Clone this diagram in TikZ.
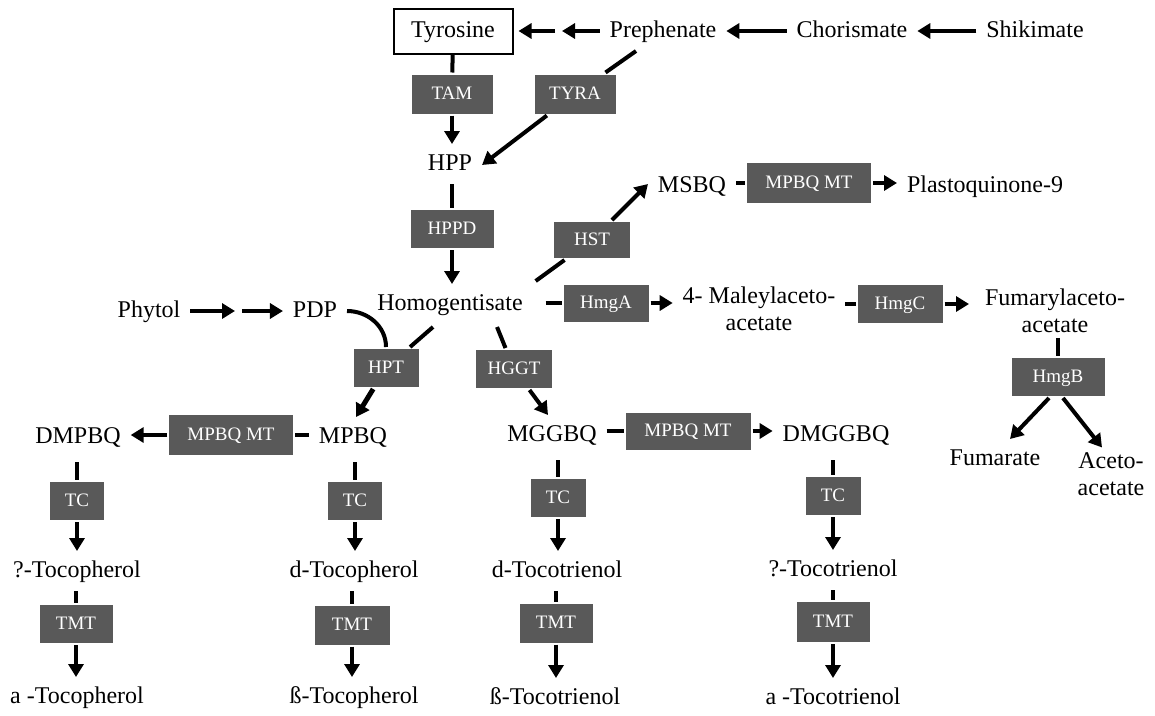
\documentclass[tikz,border=0pt]{standalone}
\usepackage{fontspec}
\setmainfont{Liberation Serif}
\usepackage{tikz}
\usetikzlibrary{arrows.meta, positioning, calc}
\definecolor{enzgray}{RGB}{89,89,89}

\begin{document}
\begin{tikzpicture}[x=1pt, y=-1pt, line width=4pt,
    met/.style={inner xsep=8pt, inner ysep=8pt, text height=16pt, text depth=4pt, font=\fontsize{24}{27}\selectfont},
    mettwo/.style={inner xsep=8pt, inner ysep=3pt, align=center, font=\fontsize{24}{27}\selectfont},
    enz/.style={fill=enzgray, text=white, inner sep=0pt, minimum height=38pt, text height=12.5pt, text depth=1pt, font=\fontsize{19}{21}\selectfont},
    arr/.style={-{Triangle[length=13pt, width=15pt]}}]
    \useasboundingbox (0,0) rectangle (1155,715);

    \node[met, draw, line width=2pt, minimum width=119pt, minimum height=45pt] (tyr) at (453,31) {Tyrosine};
    \node[met] (preph) at (663,31) {Prephenate};
    \node[met] (chor) at (852,31) {Chorismate};
    \node[met] (shik) at (1035,31) {Shikimate};
    \node[met] (hpp) at (450,164) {HPP};
    \node[met] (homog) at (450,304) {Homogentisate};
    \node[met] (phytol) at (149,311) {Phytol};
    \node[met] (pdp) at (315,311) {PDP};
    \node[met] (msbq) at (692,186) {MSBQ};
    \node[met] (pq) at (985,186) {Plastoquinone-9};
    \node[mettwo] (mal) at (759,309) {4- Maleylaceto-\\acetate};
    \node[mettwo] (fum) at (1055,311) {Fumarylaceto-\\acetate};
    \node[met] (fumarate) at (995,459) {Fumarate};
    \node[mettwo] (aceto) at (1111,474) {Aceto-\\acetate};
    \node[met] (dmpbq) at (78,437) {DMPBQ};
    \node[met] (mpbq) at (353,437) {MPBQ};
    \node[met] (mggbq) at (552,435) {MGGBQ};
    \node[met] (dmggbq) at (836,435) {DMGGBQ};
    \node[met] (gtoc) at (77,571) {?-Tocopherol};
    \node[met] (dtoc) at (354,571) {d-Tocopherol};
    \node[met] (dtri) at (557,571) {d-Tocotrienol};
    \node[met] (gtri) at (833,570) {?-Tocotrienol};
    \node[met] (atoc) at (77,697) {a -Tocopherol};
    \node[met] (btoc) at (354,697) {ß-Tocopherol};
    \node[met] (btri) at (555,698) {ß-Tocotrienol};
    \node[met] (atri) at (833,698) {a -Tocotrienol};

    \node[enz, minimum width=81pt, minimum height=39pt] (tam) at (452,94) {TAM};
    \node[enz, minimum width=81pt, minimum height=39pt] (tyra) at (575,94) {TYRA};
    \node[enz, minimum width=83pt] (hppd) at (452,229) {HPPD};
    \node[enz, minimum width=76pt, minimum height=36pt] (hst) at (592,240) {HST};
    \node[enz, minimum width=124pt, minimum height=40pt] (mtt) at (809,183) {MPBQ MT};
    \node[enz, minimum width=85pt, minimum height=37pt] (hmga) at (606,303) {HmgA};
    \node[enz, minimum width=85pt, minimum height=38pt] (hmgc) at (900,304) {HmgC};
    \node[enz, minimum width=93pt] (hmgb) at (1058,377) {HmgB};
    \node[enz, minimum width=65pt] (hpt) at (386,368) {HPT};
    \node[enz, minimum width=76pt] (hggt) at (514,369) {HGGT};
    \node[enz, minimum width=124pt, minimum height=40pt] (mtl) at (231,435) {MPBQ MT};
    \node[enz, minimum width=125pt, minimum height=37pt] (mtr) at (688,431) {MPBQ MT};
    \node[enz, minimum width=54pt] (tc1) at (77,501) {TC};
    \node[enz, minimum width=54pt] (tc2) at (355,501) {TC};
    \node[enz, minimum width=55pt] (tc3) at (558,498) {TC};
    \node[enz, minimum width=55pt] (tc4) at (833,496) {TC};
    \node[enz, minimum width=73pt] (tmt1) at (76,624) {TMT};
    \node[enz, minimum width=75pt, minimum height=39pt] (tmt2) at (352,625) {TMT};
    \node[enz, minimum width=73pt, minimum height=39pt] (tmt3) at (556,623) {TMT};
    \node[enz, minimum width=73pt, minimum height=40pt] (tmt4) at (833,622) {TMT};

    \coordinate (brkr) at (562,31);
    \coordinate (brkl) at (555,31);
    \coordinate (ppr) at (235,311);
    \coordinate (ppl) at (242,311);

    \draw[arr] (shik) -- (chor);
    \draw[arr] (chor) -- (preph);
    \draw[arr] (preph) -- (brkr);
    \draw[arr, shorten >=5pt] (brkl) -- (tyr);
    \draw (tyr) -- (tam);
    \draw[arr] (tam) -- (tam |- hpp.north);
    \draw ([xshift=-27pt]preph.south) -- (tyra);
    \draw[arr] (tyra) -- ([yshift=-1pt]hpp.east);
    \draw (hppd |- hpp.south) -- (hppd);
    \draw[arr] (hppd) -- (hppd |- homog.north);

    \draw[arr] (phytol) -- (ppr);
    \draw[arr] (ppl) -- (pdp);
    \draw (pdp.east) to[out=0, in=90] (hpt.north);
    \draw ([xshift=-17pt, yshift=-3pt]homog.south) -- (hpt);
    \draw[arr, line width=5pt] (hpt) -- ([xshift=3pt]mpbq.north);
    \draw ([xshift=47pt, yshift=-3pt]homog.south) -- (hggt);
    \draw[arr] (hggt) -- ([xshift=-4pt]mggbq.north);

    \draw ([xshift=3pt, yshift=3pt]homog.north east) -- (hst);
    \draw[arr] (hst) -- ([yshift=2pt]msbq.west);
    \draw (msbq.east |- mtt) -- (mtt);
    \draw[arr] (mtt) -- (mtt -| pq.west);
    \draw[shorten <=13pt] (homog.east |- hmga) -- (hmga);
    \draw[arr] (hmga) -- (hmga -| mal.west);
    \draw (mal.east |- hmgc) -- (hmgc);
    \draw[arr, shorten >=6pt] (hmgc) -- (hmgc -| fum.west);
    \draw (hmgb |- fum.south) -- (hmgb);
    \draw[arr] ([xshift=-9pt]hmgb.south) -- ([xshift=15pt]fumarate.north);
    \draw[arr] ([xshift=5pt]hmgb.south) -- ([xshift=-9pt]aceto.north);

    \draw (mpbq.west |- mtl) -- (mtl);
    \draw[arr] (mtl) -- (mtl -| dmpbq.east);
    \draw (mggbq.east |- mtr) -- (mtr);
    \draw[arr] (mtr) -- (mtr -| dmggbq.west);

    \draw[shorten <=5pt] (tc1 |- dmpbq.south) -- (tc1);
    \draw[arr] (tc1) -- (tc1 |- gtoc.north);
    \draw (tmt1 |- gtoc.south) -- (tmt1);
    \draw[arr] (tmt1) -- (tmt1 |- atoc.north);
    \draw[shorten <=5pt] (tc2 |- mpbq.south) -- (tc2);
    \draw[arr] (tc2) -- (tc2 |- dtoc.north);
    \draw (tmt2 |- dtoc.south) -- (tmt2);
    \draw[arr] (tmt2) -- (tmt2 |- btoc.north);
    \draw[shorten <=5pt] (tc3 |- mggbq.south) -- (tc3);
    \draw[arr] (tc3) -- (tc3 |- dtri.north);
    \draw (tmt3 |- dtri.south) -- (tmt3);
    \draw[arr] (tmt3) -- (tmt3 |- btri.north);
    \draw[shorten <=5pt] (tc4 |- dmggbq.south) -- (tc4);
    \draw[arr] (tc4) -- (tc4 |- gtri.north);
    \draw (tmt4 |- gtri.south) -- (tmt4);
    \draw[arr] (tmt4) -- (tmt4 |- atri.north);
\end{tikzpicture}
\end{document}
